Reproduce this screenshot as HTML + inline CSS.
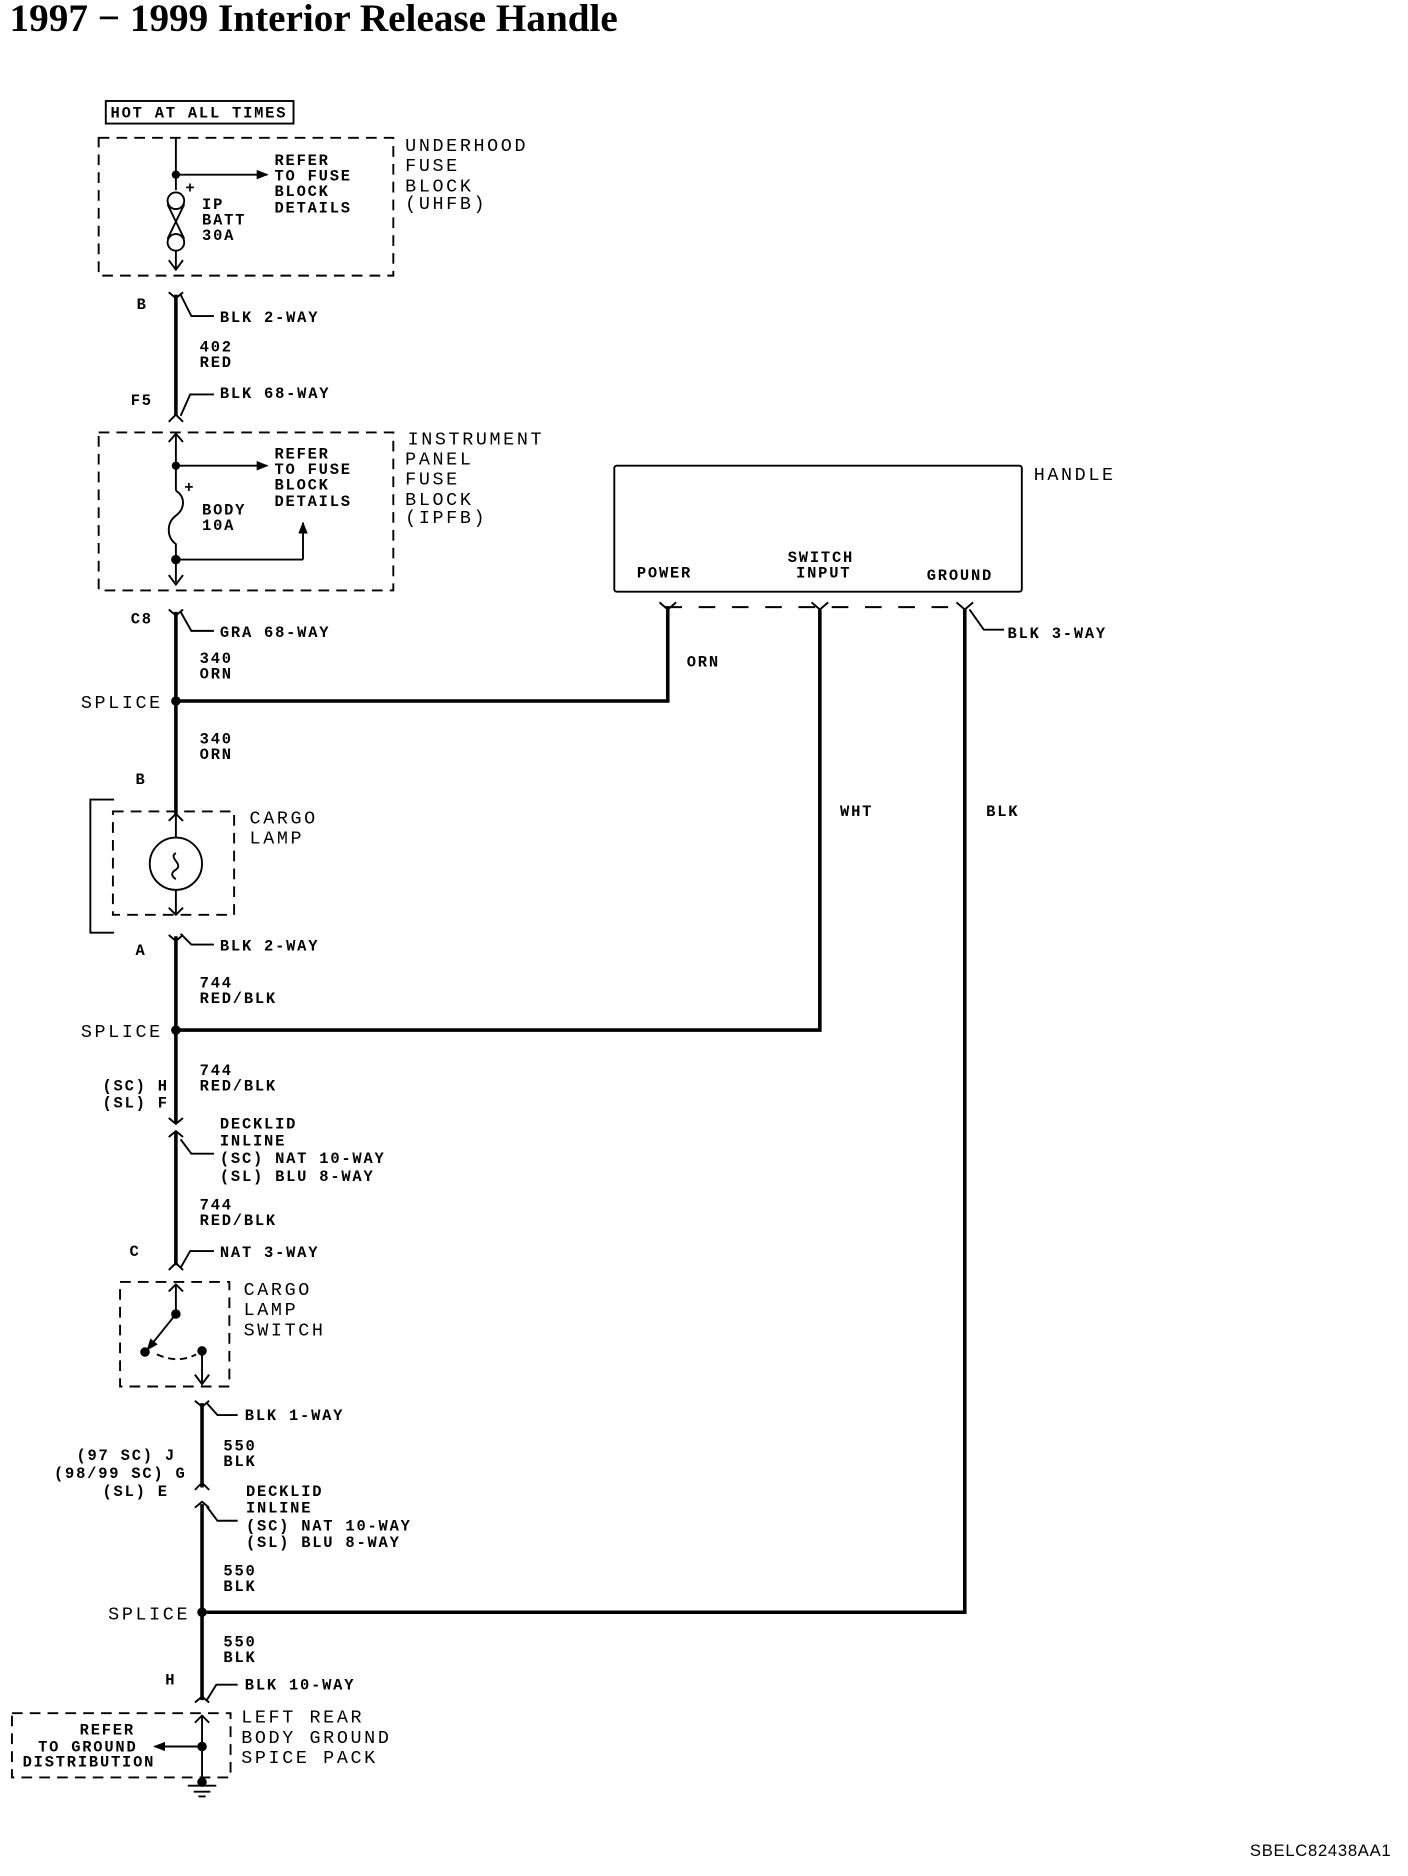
<!DOCTYPE html>
<html><head><meta charset="utf-8"><style>
html,body{margin:0;padding:0;background:#fff}
svg{display:block}
text{font-family:"Liberation Mono","DejaVu Sans Mono",monospace;fill:#000}
.s{font-size:13px;font-weight:bold;letter-spacing:1.5px}
.m{font-size:15.5px;letter-spacing:2.2px}
</style></head><body>
<svg width="1408" height="1876" viewBox="0 0 1185 1579" xmlns="http://www.w3.org/2000/svg">
<defs>
<marker id="ah" markerWidth="10" markerHeight="8" refX="9" refY="4" orient="auto" markerUnits="userSpaceOnUse"><path d="M0,0 L10,4 L0,8 Z" fill="#000"/></marker>
</defs>
<text x="8" y="26" style="font-family:'Liberation Serif',serif;font-weight:bold;font-size:33px;letter-spacing:0">1997 − 1999 Interior Release Handle</text>

<g fill="none" stroke="#000" stroke-width="1.6">
<rect x="89" y="85" width="158" height="19"/>
<rect x="83" y="116" width="248" height="116" stroke-dasharray="9,6"/>
<line x1="148" y1="116" x2="148" y2="160"/>
<line x1="148" y1="147" x2="225" y2="147" marker-end="url(#ah)"/>
<circle cx="148" cy="169" r="7"/><circle cx="148" cy="204" r="7"/>
<path d="M141,172 L155,201 M155,172 L141,201"/>
<line x1="148" y1="211" x2="148" y2="227"/>
<path d="M142,219 L148,227 L154,219"/>
<rect x="83" y="364" width="248" height="133" stroke-dasharray="9,6"/>
<path d="M142,372 L148,365 L154,372"/>
<line x1="148" y1="365" x2="148" y2="413"/>
<line x1="148" y1="392" x2="225" y2="392" marker-end="url(#ah)"/>
<path d="M148,413 C156,418 156,428 148,434 C140,440 140,452 148,458 L148,490"/>
<line x1="148" y1="471" x2="255" y2="471"/>
<line x1="255" y1="471" x2="255" y2="440" marker-end="url(#ah)"/>
<path d="M142,484 L148,492 L154,484"/>
<rect x="517" y="392" width="343" height="106" rx="2"/>
<line x1="560" y1="511" x2="812" y2="511" stroke-dasharray="14,14"/>
<path d="M555,507 L562,513 L569,507 M683,507 L690,513 L697,507 M805,507 L812,513 L819,507"/>
<path d="M816,513 L828,530 L845,530"/>
<path d="M152,248 L161,266 L180,266"/>
<path d="M152,350 L160,332 L180,332"/>
<path d="M152,515 L161,531 L180,531"/>
<path d="M152,786 L161,795 L180,795"/>
<path d="M152,959 L161,971 L180,971"/>
<path d="M152,1067 L160,1053 L180,1053"/>
<path d="M174,1181 L183,1191 L200,1191"/>
<path d="M174,1268 L183,1280 L200,1280"/>
<path d="M174,1431 L182,1418 L200,1418"/>
<path d="M142,246 L148,251 L154,246"/>
<path d="M142,355 L148,349 L154,355"/>
<path d="M142,513 L148,518 L154,513"/>
<path d="M142,787 L148,792 L154,787"/>
<path d="M142,941 L148,946 L154,941 M142,957 L148,952 L154,957"/>
<path d="M142,1069 L148,1063 L154,1069"/>
<path d="M164,1179 L170,1184 L176,1179"/>
<path d="M164,1254 L170,1248 L176,1254 M164,1269 L170,1264 L176,1269"/>
<path d="M164,1433 L170,1428 L176,1433"/>
<path d="M96,673 L76,673 L76,785 L96,785"/>
<rect x="95" y="683" width="102" height="87" stroke-dasharray="9,6"/>
<path d="M142,691 L148,685 L154,691 M142,764 L148,770 L154,764"/>
<line x1="148" y1="685" x2="148" y2="705"/><line x1="148" y1="749" x2="148" y2="770"/>
<circle cx="148" cy="727" r="22"/>
<path d="M148,718 C141,722 155,727 148,732 C141,736 148,740 148,740"/>
<rect x="101" y="1079" width="92" height="88" stroke-dasharray="9,6"/>
<path d="M142,1087 L148,1081 L154,1087"/>
<line x1="148" y1="1081" x2="148" y2="1106"/>
<line x1="148" y1="1106" x2="124" y2="1136" marker-end="url(#ah)"/>
<path d="M132,1140 Q150,1148 165,1140" stroke-dasharray="6,4"/>
<line x1="170" y1="1137" x2="170" y2="1165"/>
<path d="M164,1157 L170,1165 L176,1157"/>
<rect x="10" y="1442" width="184" height="54" stroke-dasharray="9,6"/>
<path d="M164,1450 L170,1444 L176,1450"/>
<line x1="170" y1="1470" x2="130" y2="1470" marker-end="url(#ah)"/>
<line x1="170" y1="1444" x2="170" y2="1500"/>
<path d="M158,1503 L182,1503 M163,1508 L177,1508 M167,1512 L173,1512"/>
</g>
<g fill="none" stroke="#000" stroke-width="3">
<line x1="148" y1="248" x2="148" y2="350"/>
<line x1="148" y1="515" x2="148" y2="685"/>
<line x1="148" y1="788" x2="148" y2="945"/>
<line x1="148" y1="953" x2="148" y2="1065"/>
<line x1="170" y1="1181" x2="170" y2="1252"/>
<line x1="170" y1="1266" x2="170" y2="1431"/>
<polyline points="148,590 562,590 562,513"/>
<polyline points="148,867 690,867 690,513"/>
<polyline points="170,1357 812,1357 812,513"/>
</g>
<g fill="#000">
<circle cx="148" cy="147" r="3.5"/><circle cx="148" cy="392" r="3.5"/><circle cx="148" cy="471" r="4"/>
<circle cx="148" cy="590" r="4"/><circle cx="148" cy="867" r="4"/><circle cx="170" cy="1357" r="4"/>
<circle cx="148" cy="1106" r="4"/><circle cx="122" cy="1138" r="4"/><circle cx="170" cy="1137" r="4"/>
<circle cx="170" cy="1470" r="4"/><circle cx="170" cy="1500" r="4"/>
</g>

<g class="s">
<text x="93" y="99">HOT AT ALL TIMES</text>
<text x="231" y="139">REFER</text><text x="231" y="152">TO FUSE</text><text x="231" y="165">BLOCK</text><text x="231" y="179">DETAILS</text>
<text x="156" y="162">+</text>
<text x="170" y="176">IP</text><text x="170" y="189">BATT</text><text x="170" y="202">30A</text>
<text x="115" y="260">B</text><text x="185" y="271">BLK 2-WAY</text>
<text x="168" y="296">402</text><text x="168" y="309">RED</text>
<text x="110" y="341">F5</text><text x="185" y="335">BLK 68-WAY</text>
<text x="231" y="386">REFER</text><text x="231" y="399">TO FUSE</text><text x="231" y="412">BLOCK</text><text x="231" y="426">DETAILS</text>
<text x="155" y="414">+</text>
<text x="170" y="433">BODY</text><text x="170" y="446">10A</text>
<text x="536" y="486">POWER</text><text x="663" y="473">SWITCH</text><text x="670" y="486">INPUT</text><text x="780" y="488">GROUND</text>
<text x="848" y="537">BLK 3-WAY</text>
<text x="578" y="561">ORN</text><text x="707" y="687">WHT</text><text x="830" y="687">BLK</text>
<text x="110" y="525">C8</text><text x="185" y="536">GRA 68-WAY</text>
<text x="168" y="558">340</text><text x="168" y="571">ORN</text>
<text x="168" y="626">340</text><text x="168" y="639">ORN</text>
<text x="114" y="660">B</text>
<text x="114" y="804">A</text><text x="185" y="800">BLK 2-WAY</text>
<text x="168" y="831">744</text><text x="168" y="844">RED/BLK</text>
<text x="168" y="905">744</text><text x="168" y="918">RED/BLK</text>
<text x="142" y="918" text-anchor="end">(SC) H</text><text x="142" y="932" text-anchor="end">(SL) F</text>
<text x="185" y="950">DECKLID</text><text x="185" y="964">INLINE</text><text x="185" y="979">(SC) NAT 10-WAY</text><text x="185" y="994">(SL) BLU 8-WAY</text>
<text x="168" y="1018">744</text><text x="168" y="1031">RED/BLK</text>
<text x="109" y="1057">C</text><text x="185" y="1058">NAT 3-WAY</text>
<text x="206" y="1195">BLK 1-WAY</text>
<text x="188" y="1221">550</text><text x="188" y="1234">BLK</text>
<text x="148" y="1229" text-anchor="end">(97 SC) J</text><text x="157" y="1244" text-anchor="end">(98/99 SC) G</text><text x="142" y="1259" text-anchor="end">(SL) E</text>
<text x="207" y="1259">DECKLID</text><text x="207" y="1273">INLINE</text><text x="207" y="1288">(SC) NAT 10-WAY</text><text x="207" y="1302">(SL) BLU 8-WAY</text>
<text x="188" y="1326">550</text><text x="188" y="1339">BLK</text>
<text x="188" y="1386">550</text><text x="188" y="1399">BLK</text>
<text x="139" y="1418">H</text><text x="206" y="1422">BLK 10-WAY</text>
<text x="67" y="1460">REFER</text><text x="32" y="1474">TO GROUND</text><text x="19" y="1487">DISTRIBUTION</text>
</g>
<g class="m">
<text x="341" y="127">UNDERHOOD</text><text x="341" y="144">FUSE</text><text x="341" y="161">BLOCK</text><text x="341" y="176">(UHFB)</text>
<text x="343" y="374">INSTRUMENT</text><text x="341" y="391">PANEL</text><text x="341" y="408">FUSE</text><text x="341" y="425">BLOCK</text><text x="341" y="440">(IPFB)</text>
<text x="870" y="404">HANDLE</text>
<text x="68" y="596">SPLICE</text><text x="68" y="873">SPLICE</text><text x="91" y="1363">SPLICE</text>
<text x="210" y="693">CARGO</text><text x="210" y="710">LAMP</text>
<text x="205" y="1090">CARGO</text><text x="205" y="1107">LAMP</text><text x="205" y="1124">SWITCH</text>
<text x="203" y="1450">LEFT REAR</text><text x="203" y="1467">BODY GROUND</text><text x="203" y="1484">SPICE PACK</text>
</g>
<text x="1052" y="1562" style="font-family:'Liberation Sans',sans-serif;font-size:14px;letter-spacing:0.6px">SBELC82438AA1</text>
</svg>
</body></html>
